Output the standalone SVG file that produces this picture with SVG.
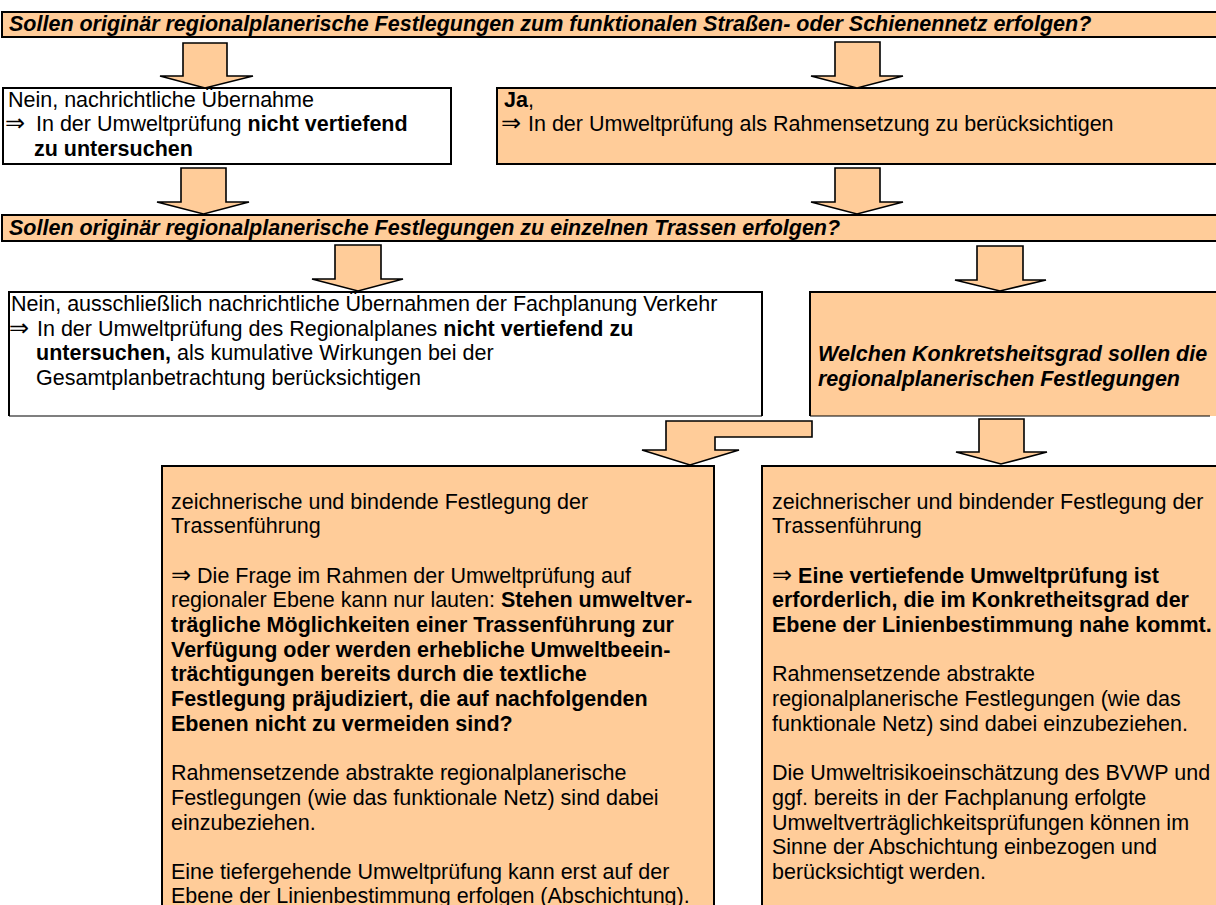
<svg xmlns="http://www.w3.org/2000/svg" width="1216" height="905" viewBox="0 0 1216 905">
  <style>
    .fill { fill: #FFCC99; stroke: #000; stroke-width: 2; }
    .plain { fill: #FFFFFF; stroke: #000; stroke-width: 2; }
    .thin { fill: none; stroke: #000; stroke-width: 1.2; }
    .arrow { fill: #FFCC99; stroke: #000; stroke-width: 1.6; stroke-linejoin: miter; }
    text { font-family: "Liberation Sans", Arial, "DejaVu Sans", sans-serif; font-size: 21.5px; fill: #000; }
    .b { font-weight: bold; }
    .bi { font-weight: bold; font-style: italic; }
    .sym { font-family: "DejaVu Sans", sans-serif; font-size: 24px; font-weight: normal; }
  </style>

  <rect width="1216" height="905" fill="#FFFFFF"/>

  <!-- Question 1 -->
  <g id="q1">
    <rect class="fill" x="2" y="12" width="1220" height="25"/>
    <text class="bi" x="9" y="31">Sollen originär regionalplanerische Festlegungen zum funktionalen Straßen- oder Schienennetz erfolgen?</text>
  </g>

  <!-- Answer 1: no -->
  <g id="no1">
    <rect class="plain" x="3" y="88" width="448" height="76"/>
    <text x="8" y="106.5">Nein, nachrichtliche Übernahme</text>
    <text class="sym" x="5" y="131">⇒</text>
    <text x="36" y="131">In der Umweltprüfung <tspan class="b">nicht vertiefend</tspan></text>
    <text class="b" x="34" y="155.5">zu untersuchen</text>
  </g>

  <!-- Answer 1: yes -->
  <g id="yes1">
    <rect class="fill" x="497" y="88" width="725" height="76"/>
    <text x="504" y="106.5"><tspan class="b">Ja</tspan>,</text>
    <text class="sym" x="501" y="131">⇒</text>
    <text x="528" y="131">In der Umweltprüfung als Rahmensetzung zu berücksichtigen</text>
  </g>

  <!-- Question 2 -->
  <g id="q2">
    <rect class="fill" x="2" y="215" width="1220" height="26"/>
    <text class="bi" x="9" y="234.5">Sollen originär regionalplanerische Festlegungen zu einzelnen Trassen erfolgen?</text>
  </g>

  <!-- Answer 2: no -->
  <g id="no2">
    <rect x="9" y="292" width="753" height="124" fill="#FFFFFF"/>
    <path class="thin" d="M9,416 L762,416"/>
    <path d="M9,416 L9,292 L762,292 L762,416" fill="none" stroke="#000" stroke-width="2"/>
    <text x="11" y="311">Nein, ausschließlich nachrichtliche Übernahmen der Fachplanung Verkehr</text>
    <text class="sym" x="9" y="335.5">⇒</text>
    <text x="37" y="335.5">In der Umweltprüfung des Regionalplanes <tspan class="b">nicht vertiefend zu</tspan></text>
    <text x="36" y="360"><tspan class="b">untersuchen,</tspan> als kumulative Wirkungen bei der</text>
    <text x="36" y="384.5">Gesamtplanbetrachtung berücksichtigen</text>
  </g>

  <!-- Answer 2: yes, question on level of detail -->
  <g id="q3">
    <rect x="810" y="292" width="410" height="124" fill="#FFCC99"/>
    <path d="M810,416 L810,292 L1222,292" fill="none" stroke="#000" stroke-width="2"/>
    <path class="thin" d="M810,416 L1210,416"/>
    <text class="bi" x="818" y="361">Welchen Konkretsheitsgrad sollen die</text>
    <text class="bi" x="818" y="385.5">regionalplanerischen Festlegungen</text>
  </g>

  <!-- Option: textual route definition -->
  <g id="opt-left">
    <rect class="fill" x="162" y="466" width="552" height="460"/>
    <text x="171" y="508.5">zeichnerische und bindende Festlegung der</text>
    <text x="171" y="533.2">Trassenführung</text>
    <text x="171" y="582.6"><tspan class="sym">⇒</tspan> Die Frage im Rahmen der Umweltprüfung auf</text>
    <text x="171" y="607.3">regionaler Ebene kann nur lauten: <tspan class="b">Stehen umweltver-</tspan></text>
    <text class="b" x="171" y="632">trägliche Möglichkeiten einer Trassenführung zur</text>
    <text class="b" x="171" y="656.7">Verfügung oder werden erhebliche Umweltbeein-</text>
    <text class="b" x="171" y="681.4">trächtigungen bereits durch die textliche</text>
    <text class="b" x="171" y="706.1">Festlegung präjudiziert, die auf nachfolgenden</text>
    <text class="b" x="171" y="730.8">Ebenen nicht zu vermeiden sind?</text>
    <text x="171" y="780.2">Rahmensetzende abstrakte regionalplanerische</text>
    <text x="171" y="804.9">Festlegungen (wie das funktionale Netz) sind dabei</text>
    <text x="171" y="829.6">einzubeziehen.</text>
    <text x="171" y="879">Eine tiefergehende Umweltprüfung kann erst auf der</text>
    <text x="171" y="902.5">Ebene der Linienbestimmung erfolgen (Abschichtung).</text>
  </g>

  <!-- Option: drawn and binding route definition -->
  <g id="opt-right">
    <rect class="fill" x="762" y="466" width="460" height="460"/>
    <text x="772" y="508.5">zeichnerischer und bindender Festlegung der</text>
    <text x="772" y="533.2">Trassenführung</text>
    <text class="b" x="772" y="582.6"><tspan class="sym">⇒</tspan> Eine vertiefende Umweltprüfung ist</text>
    <text class="b" x="772" y="607.3">erforderlich, die im Konkretheitsgrad der</text>
    <text class="b" x="772" y="632">Ebene der Linienbestimmung nahe kommt.</text>
    <text x="772" y="681.4">Rahmensetzende abstrakte</text>
    <text x="772" y="706.1">regionalplanerische Festlegungen (wie das</text>
    <text x="772" y="730.8">funktionale Netz) sind dabei einzubeziehen.</text>
    <text x="772" y="780.2">Die Umweltrisikoeinschätzung des BVWP und</text>
    <text x="772" y="804.9">ggf. bereits in der Fachplanung erfolgte</text>
    <text x="772" y="829.6">Umweltverträglichkeitsprüfungen können im</text>
    <text x="772" y="854.3">Sinne der Abschichtung einbezogen und</text>
    <text x="772" y="879">berücksichtigt werden.</text>
  </g>

  <!-- Block arrows -->
  <g id="connectors">
    <polygon class="arrow" points="183,43 227,43 227,76 253,76 205,88 160,76 183,76"/>
    <polygon class="arrow" points="835,42 880,42 880,76 903,76 857,88 811,76 835,76"/>
    <polygon class="arrow" points="181,168 226,168 226,202 249,202 203.5,214 157,202 181,202"/>
    <polygon class="arrow" points="835,168 880,168 880,202 903,202 857,214 811,202 835,202"/>
    <polygon class="arrow" points="335,245 381,245 381,279 403,279 358,291 312,279 335,279"/>
    <polygon class="arrow" points="977,246 1023,246 1023,280 1046,280 1000,291 955,280 977,280"/>
    <polygon class="arrow" points="666,421 812,421 812,437 715,437 715,450 739,450 690,465 642,450 666,450"/>
    <polygon class="arrow" points="979,419 1024,419 1024,452 1047,452 1001,464 956,452 979,452"/>
  </g>
</svg>
